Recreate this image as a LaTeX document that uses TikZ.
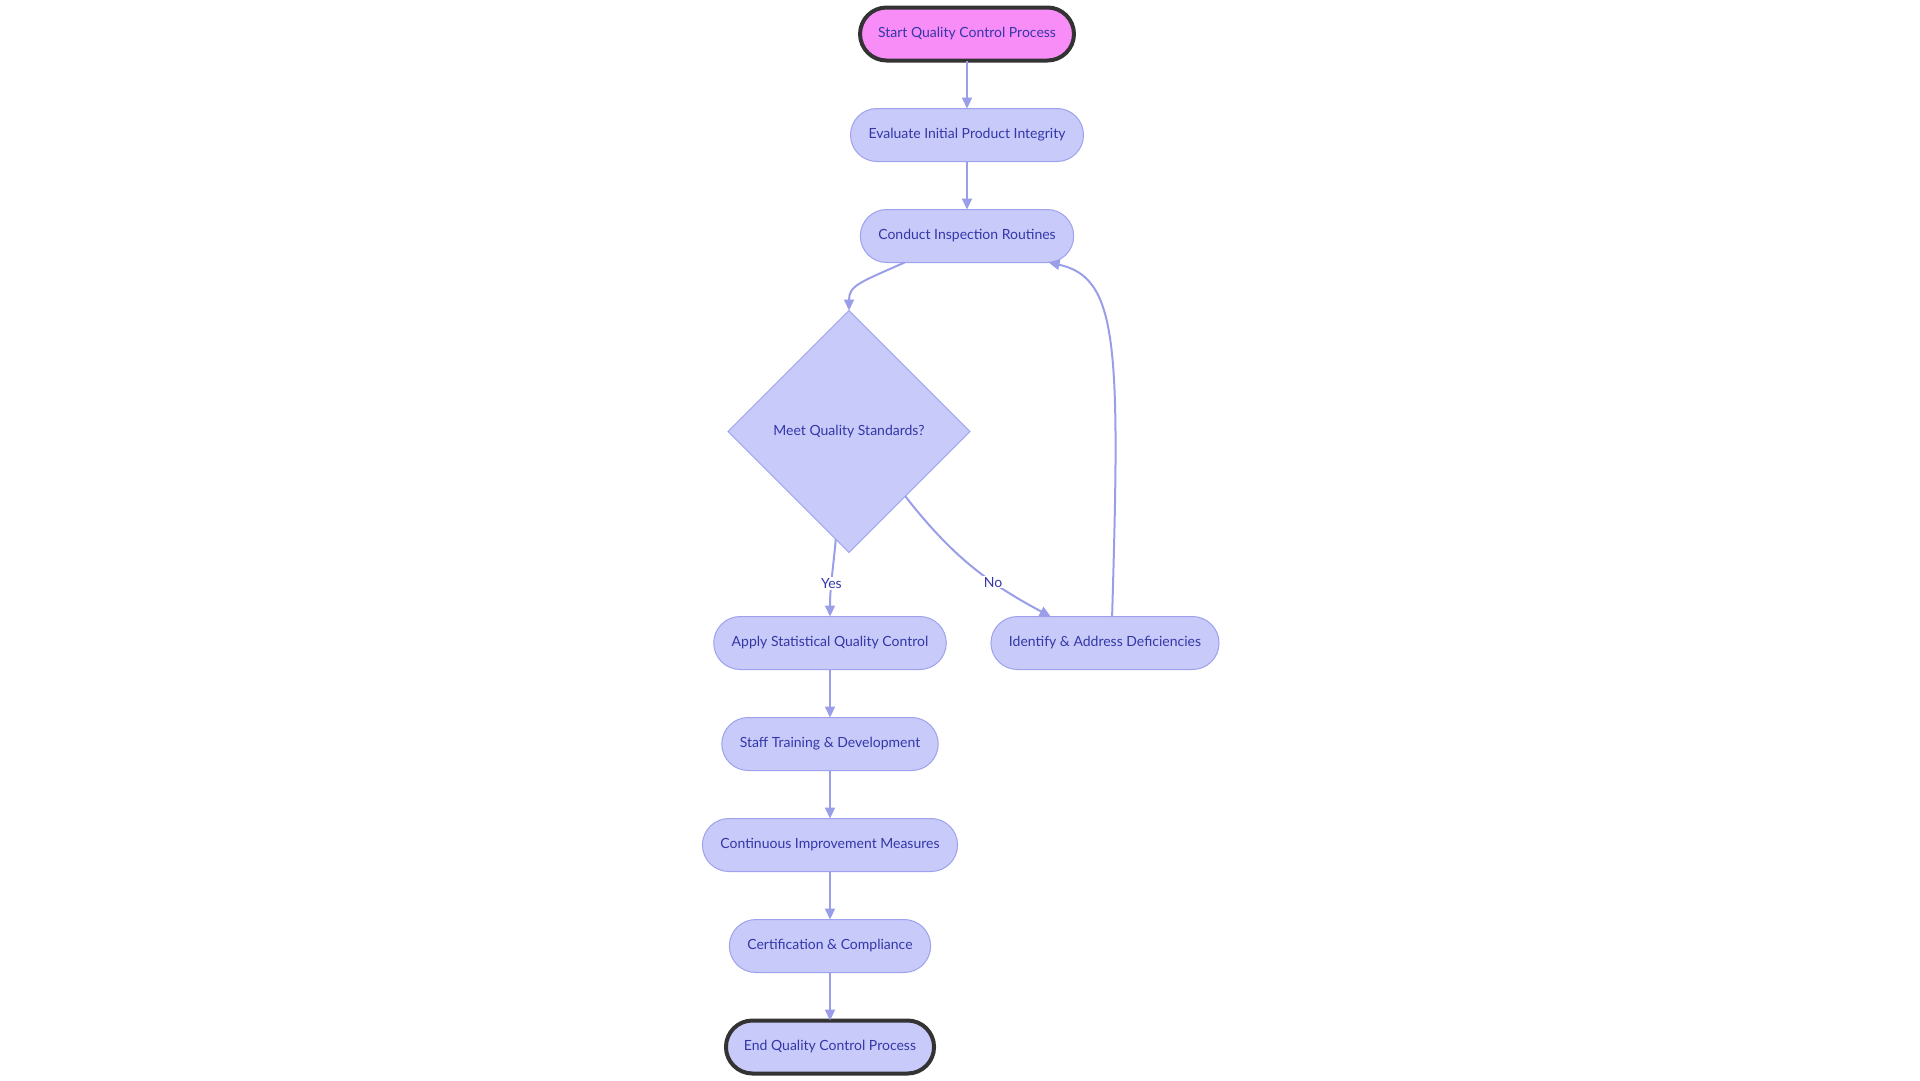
\documentclass[tikz,border=0pt]{standalone}
\usepackage{fontspec}
\setmainfont{Lato}
\usepackage{tikz}
\usetikzlibrary{arrows.meta,positioning,shapes.geometric}
\definecolor{Lav}{HTML}{C8CAF9}
\definecolor{LavLine}{HTML}{9EA2EC}
\definecolor{Edge}{HTML}{9A9EE8}
\definecolor{Ink}{HTML}{3437A8}
\definecolor{Pink}{HTML}{F98DF8}
\definecolor{Dark}{HTML}{333333}

\begin{document}
\begin{tikzpicture}[
  x=1pt,y=1pt,
  font=\fontsize{14}{16}\selectfont,
  node distance=48pt,
  stadium/.style={
    draw=LavLine,fill=Lav,text=Ink,line width=1pt,rounded corners=26.5pt,
    minimum height=53pt,inner xsep=18pt,outer sep=0pt,
    text height=0.72em,text depth=0pt
  },
  term/.style={stadium,draw=Dark,line width=4pt},
  decide/.style={
    diamond,draw=LavLine,fill=Lav,text=Ink,line width=1pt,
    minimum width=242pt,minimum height=242pt,inner sep=0pt,outer sep=0pt
  },
  arr/.style={-{Triangle[length=11pt,width=10pt]},draw=Edge,line width=2pt},
  lbl/.style={fill=white,text=Ink,inner sep=1pt}
]
  \useasboundingbox (0,0) rectangle (1920,-1080);

  \node[term,fill=Pink] (start) at (967,-34) {Start Quality Control Process};
  \node[stadium,below=of start] (evaluate) {Evaluate Initial Product Integrity};
  \node[stadium,below=of evaluate] (conduct) {Conduct Inspection Routines};
  \node[decide,below=48pt of conduct,xshift=-118pt] (quality) {Meet Quality Standards?};
  \node[stadium,below=64pt of quality,xshift=-19pt] (apply) {Apply Statistical Quality Control};
  \node[stadium,below=64pt of quality,xshift=256pt] (identify) {Identify \& Address Deficiencies};
  \node[stadium,below=of apply] (staff) {Staff Training \& Development};
  \node[stadium,below=of staff] (improve) {Continuous Improvement Measures};
  \node[stadium,below=of improve] (cert) {Certification \& Compliance};
  \node[term,fill=Lav,below=of cert] (finish) {End Quality Control Process};

  \draw[arr] (start) -- (evaluate);
  \draw[arr] (evaluate) -- (conduct);
  \draw[arr] (conduct.203) .. controls +(-45,-20) and +(0,25) .. (quality.north);
  \draw[arr] (quality.-97) to[out=-95,in=90] node[lbl,pos=0.58] {Yes} (apply.north);
  \draw[arr] (quality.-49) to[out=-52,in=152] node[lbl,pos=0.66] {No} (identify.154);
  \draw[arr] (identify.75) .. controls +(8,270) and +(70,-15) .. (conduct.-18);
  \draw[arr] (apply) -- (staff);
  \draw[arr] (staff) -- (improve);
  \draw[arr] (improve) -- (cert);
  \draw[arr] (cert) -- (finish);
\end{tikzpicture}
\end{document}
